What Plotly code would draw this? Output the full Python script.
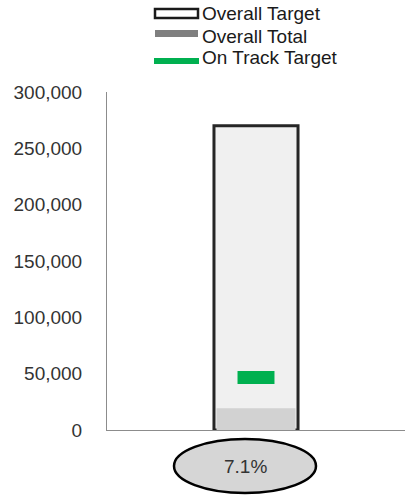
import plotly.graph_objects as go

# ---- data ----
categories = [0]
overall_target = [270000]
overall_total = [19200]
on_track_target = [46500]
y_tick_vals = [0, 50000, 100000, 150000, 200000, 250000, 300000]
legend_labels = ["Overall Target", "Overall Total", "On Track Target"]

pct = overall_total[0] / overall_target[0] * 100
pct_label = f"{pct:.1f}%"

FONT = "Liberation Sans, Arial, sans-serif"
W, H = 406, 495
L, R, T, B = 107, 1, 92, 65
PW, PH = W - L - R, H - T - B


def px(x):
    return (x - L) / PW


def py(y):
    return (H - B - y) / PH


fig = go.Figure()

target_w = 0.282
total_w = 0.265
mark_w = 0.124

fig.add_trace(go.Bar(
    x=categories, y=overall_target, width=target_w,
    marker=dict(color="#F0F0F0", line=dict(color="#262626", width=3)),
    name=legend_labels[0], showlegend=False, hoverinfo="skip",
))
fig.add_trace(go.Bar(
    x=categories, y=overall_total, width=total_w,
    marker=dict(color="#D2D2D2", line=dict(width=0)),
    name=legend_labels[1], showlegend=False, hoverinfo="skip",
))
for c, v in zip(categories, on_track_target):
    fig.add_trace(go.Scatter(
        x=[c - mark_w / 2, c + mark_w / 2], y=[v, v], mode="lines",
        line=dict(color="#00B050", width=13),
        name=legend_labels[2], showlegend=False, hoverinfo="skip",
    ))

shapes = []
annotations = []

# custom legend
leg_x0, leg_x1 = px(155), px(198)
shapes.append(dict(type="rect", xref="paper", yref="paper",
                   x0=leg_x0, x1=leg_x1, y0=py(18), y1=py(9),
                   line=dict(color="#1a1a1a", width=2.5), fillcolor="#FFFFFF"))
shapes.append(dict(type="rect", xref="paper", yref="paper",
                   x0=leg_x0, x1=leg_x1, y0=py(37), y1=py(30),
                   line=dict(width=0), fillcolor="#7F7F7F"))
shapes.append(dict(type="line", xref="paper", yref="paper",
                   x0=px(154), x1=px(199), y0=py(61), y1=py(61),
                   line=dict(color="#00B050", width=6)))
for lab, yc in zip(legend_labels, [14, 36, 58]):
    annotations.append(dict(text=lab, xref="paper", yref="paper",
                            x=px(200), y=py(yc), xanchor="left", yanchor="middle",
                            showarrow=False,
                            font=dict(family=FONT, size=19, color="#1a1a1a")))

# percentage ellipse label
shapes.append(dict(type="circle", xref="paper", yref="paper",
                   x0=px(174), x1=px(316), y0=py(493), y1=py(439),
                   line=dict(color="#000000", width=2.5), fillcolor="#D6D6D6"))
annotations.append(dict(text=pct_label, xref="paper", yref="paper",
                        x=px(245), y=py(466), xanchor="center", yanchor="middle",
                        showarrow=False,
                        font=dict(family=FONT, size=19, color="#333333")))

fig.update_layout(
    width=W, height=H,
    margin=dict(l=L, r=R, t=T, b=B, pad=0),
    paper_bgcolor="white", plot_bgcolor="white",
    barmode="overlay", showlegend=False,
    shapes=shapes, annotations=annotations,
    font=dict(family=FONT, size=19, color="#333333"),
    xaxis=dict(range=[-0.5, 0.5], showticklabels=False, showgrid=False,
               zeroline=False, showline=True, linecolor="#8C8C8C", linewidth=1,
               ticks="", fixedrange=True),
    yaxis=dict(range=[0, 300000], tickvals=y_tick_vals, tickformat=",",
               showgrid=False, zeroline=False, showline=True,
               linecolor="#8C8C8C", linewidth=1, ticks="",
               ticklabelstandoff=20,
               tickfont=dict(family=FONT, size=19, color="#333333"),
               fixedrange=True),
)

fig.write_html(
    "out.html",
    config={"displayModeBar": False},
    post_script="document.body.style.margin='0';document.body.style.padding='0';document.body.style.overflow='hidden';",
)
